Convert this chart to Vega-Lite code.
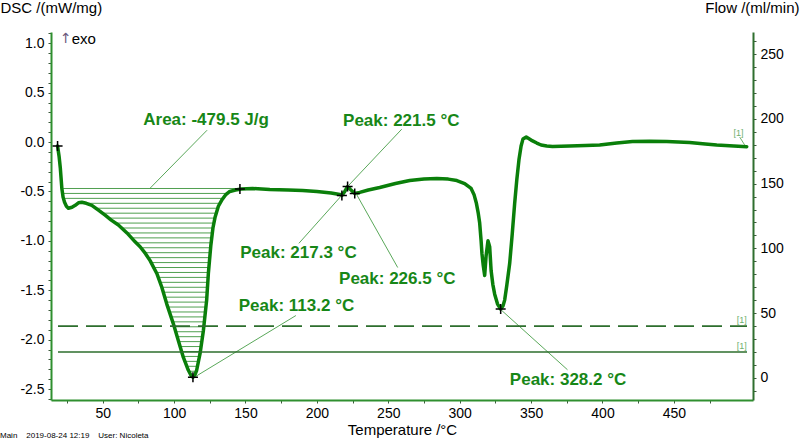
{
  "$schema": "https://vega.github.io/schema/vega-lite/v6.json",
  "width": 702,
  "height": 368,
  "autosize": {"type": "none"},
  "padding": {"left": 51, "top": 32, "right": 47, "bottom": 42},
  "background": "white",
  "config": {
    "view": {"stroke": null},
    "font": "Liberation Sans",
    "axis": {"grid": false, "labelFont": "Liberation Sans", "titleFont": "Liberation Sans", "labelColor": "black", "titleColor": "black", "titleFontWeight": "normal", "labelOverlap": false, "labelBound": false}
  },
  "title": {
    "text": "Main\u00a0\u00a0\u00a0 2019-08-24 12:19\u00a0\u00a0\u00a0 User: Nicoleta",
    "orient": "bottom", "anchor": "start", "frame": "bounds",
    "fontSize": 8, "fontWeight": "normal", "color": "black", "offset": -5, "font": "Liberation Sans"
  },
  "datasets": {
    "dsc": [
      {"t":18.4,"v":-0.04},{"t":19.5,"v":-0.15},{"t":20.3,"v":-0.26},{"t":21.4,"v":-0.47},{"t":22.3,"v":-0.56},{"t":23.3,"v":-0.61},{"t":24.6,"v":-0.65},{"t":26,"v":-0.67},{"t":28.5,"v":-0.66},{"t":30.8,"v":-0.64},{"t":33,"v":-0.615},{"t":35.4,"v":-0.61},{"t":38.5,"v":-0.62},{"t":42.4,"v":-0.64},{"t":47,"v":-0.69},{"t":51.7,"v":-0.74},{"t":56,"v":-0.79},{"t":61,"v":-0.84},{"t":67,"v":-0.92},{"t":72.7,"v":-1.01},{"t":76.2,"v":-1.06},{"t":80,"v":-1.13},{"t":83.2,"v":-1.2},{"t":87.9,"v":-1.33},{"t":91.4,"v":-1.47},{"t":94.9,"v":-1.64},{"t":99.5,"v":-1.84},{"t":103,"v":-2.01},{"t":106.5,"v":-2.18},{"t":110,"v":-2.31},{"t":111.8,"v":-2.36},{"t":113.2,"v":-2.38},{"t":114.5,"v":-2.36},{"t":115.8,"v":-2.31},{"t":118.2,"v":-2.14},{"t":120.5,"v":-1.91},{"t":122.8,"v":-1.6},{"t":124,"v":-1.33},{"t":125.7,"v":-1.05},{"t":127.2,"v":-0.87},{"t":128.7,"v":-0.76},{"t":131,"v":-0.65},{"t":133.3,"v":-0.59},{"t":136,"v":-0.535},{"t":139,"v":-0.5},{"t":143,"v":-0.485},{"t":147,"v":-0.475},{"t":155,"v":-0.47},{"t":167,"v":-0.48},{"t":180,"v":-0.485},{"t":190,"v":-0.49},{"t":200,"v":-0.5},{"t":210,"v":-0.515},{"t":216,"v":-0.53},{"t":217.5,"v":-0.54},{"t":219.5,"v":-0.5},{"t":221.5,"v":-0.45},{"t":223.5,"v":-0.48},{"t":226.5,"v":-0.52},{"t":230,"v":-0.51},{"t":236,"v":-0.485},{"t":244,"v":-0.46},{"t":255,"v":-0.42},{"t":265,"v":-0.39},{"t":275,"v":-0.375},{"t":284,"v":-0.37},{"t":292,"v":-0.375},{"t":298,"v":-0.39},{"t":303.5,"v":-0.42},{"t":308,"v":-0.47},{"t":310,"v":-0.53},{"t":311.7,"v":-0.62},{"t":313,"v":-0.72},{"t":314,"v":-0.82},{"t":315,"v":-1.0},{"t":315.6,"v":-1.13},{"t":316.5,"v":-1.25},{"t":317.5,"v":-1.35},{"t":318.5,"v":-1.15},{"t":319.8,"v":-1.0},{"t":321,"v":-1.06},{"t":322,"v":-1.3},{"t":323.2,"v":-1.44},{"t":324.5,"v":-1.54},{"t":326.5,"v":-1.64},{"t":328.7,"v":-1.69},{"t":330.3,"v":-1.66},{"t":331.5,"v":-1.6},{"t":333,"v":-1.45},{"t":335,"v":-1.23},{"t":336.8,"v":-0.93},{"t":338.5,"v":-0.62},{"t":340,"v":-0.38},{"t":341.5,"v":-0.18},{"t":343,"v":-0.04},{"t":344.3,"v":0.03},{"t":346.6,"v":0.05},{"t":350,"v":0.02},{"t":354,"v":-0.01},{"t":357,"v":-0.03},{"t":361,"v":-0.04},{"t":365,"v":-0.045},{"t":377,"v":-0.04},{"t":388,"v":-0.035},{"t":398,"v":-0.03},{"t":410,"v":-0.01},{"t":421,"v":0.005},{"t":433,"v":0.008},{"t":445,"v":0.005},{"t":461,"v":-0.005},{"t":472,"v":-0.02},{"t":480,"v":-0.03},{"t":492,"v":-0.04},{"t":501,"v":-0.047}
    ],
    "hatch": [
      {"h":-0.47,"a":21.4,"b":147},{"h":-0.52,"a":22.1,"b":137.3},{"h":-0.57,"a":22.8,"b":134.3},{"h":-0.62,"a":38.5,"b":132.2},{"h":-0.67,"a":45.2,"b":130.6},{"h":-0.72,"a":49.8,"b":129.5},{"h":-0.77,"a":54.3,"b":128.6},{"h":-0.82,"a":59.0,"b":127.9},{"h":-0.87,"a":63.3,"b":127.2},{"h":-0.92,"a":67.0,"b":126.8},{"h":-0.97,"a":70.2,"b":126.4},{"h":-1.02,"a":73.4,"b":125.95},{"h":-1.07,"a":76.7,"b":125.6},{"h":-1.12,"a":79.5,"b":125.3},{"h":-1.17,"a":81.8,"b":125.0},{"h":-1.22,"a":83.9,"b":124.7},{"h":-1.27,"a":85.7,"b":124.4},{"h":-1.32,"a":87.5,"b":124.05},{"h":-1.37,"a":88.9,"b":123.8},{"h":-1.42,"a":90.1,"b":123.6},{"h":-1.47,"a":91.4,"b":123.4},{"h":-1.52,"a":92.4,"b":123.2},{"h":-1.57,"a":93.5,"b":122.9},{"h":-1.62,"a":94.5,"b":122.65},{"h":-1.67,"a":95.6,"b":122.3},{"h":-1.72,"a":96.7,"b":121.9},{"h":-1.77,"a":97.9,"b":121.5},{"h":-1.82,"a":99.0,"b":121.2},{"h":-1.87,"a":100.1,"b":120.8},{"h":-1.92,"a":101.1,"b":120.4},{"h":-1.97,"a":102.2,"b":119.9},{"h":-2.02,"a":103.2,"b":119.4},{"h":-2.07,"a":104.2,"b":118.9},{"h":-2.12,"a":105.3,"b":118.4},{"h":-2.17,"a":106.3,"b":117.8},{"h":-2.22,"a":107.6,"b":117.1},{"h":-2.27,"a":108.9,"b":116.4},{"h":-2.32,"a":110.5,"b":115.4}
    ],
    "leaders": [
      {"t1":123.1,"v1":0.12,"t2":83.2,"v2":-0.467},
      {"t1":259.4,"v1":0.13,"t2":221.7,"v2":-0.447},
      {"t1":187.4,"v1":-1.025,"t2":217.5,"v2":-0.538},
      {"t1":256.6,"v1":-1.27,"t2":227.3,"v2":-0.518},
      {"t1":185.3,"v1":-1.756,"t2":114.7,"v2":-2.376},
      {"t1":375.5,"v1":-2.305,"t2":328.7,"v2":-1.695}
    ],
    "tagleader": [{"t1":496.1,"v1":0.05,"t2":499.6,"v2":-0.03}],
    "markers": [
      {"t":18.4,"v":-0.04},{"t":146.1,"v":-0.475},{"t":113.2,"v":-2.38},{"t":217.5,"v":-0.54},{"t":221.5,"v":-0.45},{"t":226.5,"v":-0.52},{"t":328.7,"v":-1.69}
    ],
    "notes": [
      {"t":122.4,"v":0.223,"label":"Area: -479.5 J/g"},
      {"t":259.1,"v":0.213,"label":"Peak: 221.5 °C"},
      {"t":187.1,"v":-1.127,"label":"Peak: 217.3 °C"},
      {"t":256.3,"v":-1.39,"label":"Peak: 226.5 °C"},
      {"t":185.7,"v":-1.655,"label":"Peak: 113.2 °C"},
      {"t":375.9,"v":-2.406,"label":"Peak: 328.2 °C"}
    ],
    "arrow": [{"t":20.1,"v":1.044,"label":"↑"}],
    "exo": [{"t":28.3,"v":1.044,"label":"exo"}],
    "dsctag": [{"t":495.3,"v":0.09,"label":"[1]"}],
    "flowDashed": [{"t1":18.7,"t2":501.2,"f":40}],
    "flowSolid": [{"t1":18.7,"t2":501.2,"f":20}],
    "flowTags": [{"t":497.5,"f":40,"label":"[1]"},{"t":497.5,"f":20,"label":"[1]"}]
  },
  "layer": [
    {
      "layer": [
        {
          "data": {"name": "hatch"},
          "mark": {"type": "rule", "color": "#4f9f4f", "strokeWidth": 1},
          "encoding": {
            "x": {"field": "a", "type": "quantitative", "title": "Temperature /°C",
              "scale": {"domain": [13.8, 505.4], "nice": false, "zero": false},
              "axis": {
                "values": [25,50,75,100,125,150,175,200,225,250,275,300,325,350,375,400,425,450,475],
                "tickCount": 200,
                "labelExpr": "datum.value % 50 == 0 ? format(datum.value, 'd') : ''",
                "labelFontSize": 14, "labelPadding": 3, "labelFlush": false, "labelOverlap": false,
                "tickSize": 3, "tickColor": "#3d5a3d", "tickWidth": 1,
                "domainColor": "#2f8f2f", "domainWidth": 2,
                "titleFontSize": 15, "titlePadding": 2
              }
            },
            "x2": {"field": "b"},
            "y": {"field": "h", "type": "quantitative", "title": "DSC /(mW/mg)",
              "scale": {"domain": [-2.611, 1.114], "nice": false, "zero": false},
              "axis": {
                "values": [-2.6,-2.5,-2.4,-2.3,-2.2,-2.1,-2.0,-1.9,-1.8,-1.7,-1.6,-1.5,-1.4,-1.3,-1.2,-1.1,-1.0,-0.9,-0.8,-0.7,-0.6,-0.5,-0.4,-0.3,-0.2,-0.1,0,0.1,0.2,0.3,0.4,0.5,0.6,0.7,0.8,0.9,1.0,1.1],
                "tickCount": 200,
                "labelExpr": "abs(datum.value*2 - round(datum.value*2)) < 0.01 ? (datum.value < -0.001 ? '-' : '') + format(abs(datum.value), '.1f') : ''",
                "labelFontSize": 14, "labelPadding": 4, "labelFlush": false, "labelOverlap": false,
                "tickSize": 3, "tickColor": "#3d5a3d", "tickWidth": 1,
                "domainColor": "#2f8f2f", "domainWidth": 2,
                "titleFontSize": 15, "titleAngle": 0, "titleAlign": "left", "titleBaseline": "middle",
                "titleX": -51, "titleY": -25
              }
            }
          }
        },
        {
          "data": {"name": "dsc"},
          "mark": {"type": "line", "color": "#0a7f0a", "strokeWidth": 3.5, "strokeJoin": "round", "strokeCap": "round"},
          "encoding": {
            "x": {"field": "t", "type": "quantitative", "title": "Temperature /°C", "scale": {"domain": [13.8, 505.4], "nice": false, "zero": false}},
            "y": {"field": "v", "type": "quantitative", "title": "DSC /(mW/mg)", "scale": {"domain": [-2.611, 1.114], "nice": false, "zero": false}}
          }
        },
        {
          "data": {"name": "leaders"},
          "mark": {"type": "rule", "color": "#5aa85a", "strokeWidth": 1},
          "encoding": {
            "x": {"field": "t1", "type": "quantitative", "title": "Temperature /°C", "scale": {"domain": [13.8, 505.4], "nice": false, "zero": false}},
            "y": {"field": "v1", "type": "quantitative", "title": "DSC /(mW/mg)", "scale": {"domain": [-2.611, 1.114], "nice": false, "zero": false}},
            "x2": {"field": "t2"},
            "y2": {"field": "v2"}
          }
        },
        {
          "data": {"name": "tagleader"},
          "mark": {"type": "rule", "color": "#6fb06f", "strokeWidth": 1},
          "encoding": {
            "x": {"field": "t1", "type": "quantitative", "title": "Temperature /°C", "scale": {"domain": [13.8, 505.4], "nice": false, "zero": false}},
            "y": {"field": "v1", "type": "quantitative", "title": "DSC /(mW/mg)", "scale": {"domain": [-2.611, 1.114], "nice": false, "zero": false}},
            "x2": {"field": "t2"},
            "y2": {"field": "v2"}
          }
        },
        {
          "data": {"name": "markers"},
          "mark": {"type": "point", "shape": "M-1,0L1,0M0,-1L0,1", "size": 100, "filled": false, "stroke": "black", "strokeWidth": 1.5, "opacity": 1},
          "encoding": {
            "x": {"field": "t", "type": "quantitative", "title": "Temperature /°C", "scale": {"domain": [13.8, 505.4], "nice": false, "zero": false}},
            "y": {"field": "v", "type": "quantitative", "title": "DSC /(mW/mg)", "scale": {"domain": [-2.611, 1.114], "nice": false, "zero": false}}
          }
        },
        {
          "data": {"name": "notes"},
          "mark": {"type": "text", "font": "Liberation Sans", "fontSize": 17, "fontWeight": "bold", "color": "#178717", "align": "center", "baseline": "middle"},
          "encoding": {
            "x": {"field": "t", "type": "quantitative", "title": "Temperature /°C", "scale": {"domain": [13.8, 505.4], "nice": false, "zero": false}},
            "y": {"field": "v", "type": "quantitative", "title": "DSC /(mW/mg)", "scale": {"domain": [-2.611, 1.114], "nice": false, "zero": false}},
            "text": {"field": "label"}
          }
        },
        {
          "data": {"name": "arrow"},
          "mark": {"type": "text", "font": "DejaVu Sans", "fontSize": 14, "color": "#6e5a7e", "align": "left", "baseline": "middle"},
          "encoding": {
            "x": {"field": "t", "type": "quantitative", "title": "Temperature /°C", "scale": {"domain": [13.8, 505.4], "nice": false, "zero": false}},
            "y": {"field": "v", "type": "quantitative", "title": "DSC /(mW/mg)", "scale": {"domain": [-2.611, 1.114], "nice": false, "zero": false}},
            "text": {"field": "label"}
          }
        },
        {
          "data": {"name": "exo"},
          "mark": {"type": "text", "font": "Liberation Sans", "fontSize": 15, "color": "black", "align": "left", "baseline": "middle"},
          "encoding": {
            "x": {"field": "t", "type": "quantitative", "title": "Temperature /°C", "scale": {"domain": [13.8, 505.4], "nice": false, "zero": false}},
            "y": {"field": "v", "type": "quantitative", "title": "DSC /(mW/mg)", "scale": {"domain": [-2.611, 1.114], "nice": false, "zero": false}},
            "text": {"field": "label"}
          }
        },
        {
          "data": {"name": "dsctag"},
          "mark": {"type": "text", "font": "Liberation Sans", "fontSize": 9, "color": "#6fb06f", "align": "center", "baseline": "middle"},
          "encoding": {
            "x": {"field": "t", "type": "quantitative", "title": "Temperature /°C", "scale": {"domain": [13.8, 505.4], "nice": false, "zero": false}},
            "y": {"field": "v", "type": "quantitative", "title": "DSC /(mW/mg)", "scale": {"domain": [-2.611, 1.114], "nice": false, "zero": false}},
            "text": {"field": "label"}
          }
        }
      ]
    },
    {
      "layer": [
        {
          "data": {"name": "flowDashed"},
          "mark": {"type": "rule", "color": "#2d6e2d", "strokeWidth": 1.8, "strokeDash": [20, 8]},
          "encoding": {
            "x": {"field": "t1", "type": "quantitative", "title": "Temperature /°C", "scale": {"domain": [13.8, 505.4], "nice": false, "zero": false}},
            "x2": {"field": "t2"},
            "y": {"field": "f", "type": "quantitative", "title": "Flow /(ml/min)",
              "scale": {"domain": [-17, 267], "nice": false, "zero": false},
              "axis": {
                "orient": "right",
                "values": [-10,0,10,20,30,40,50,60,70,80,90,100,110,120,130,140,150,160,170,180,190,200,210,220,230,240,250,260],
                "tickCount": 200,
                "labelExpr": "datum.value % 50 == 0 ? format(datum.value, 'd') : ''",
                "labelFontSize": 14, "labelPadding": 4, "labelFlush": false, "labelOverlap": false,
                "tickSize": 3, "tickColor": "#3d5a3d", "tickWidth": 1,
                "domainColor": "#2f6f2f", "domainWidth": 2,
                "titleFontSize": 15, "titleAngle": 0, "titleAlign": "right", "titleBaseline": "middle",
                "titleX": 46, "titleY": -25
              }
            }
          }
        },
        {
          "data": {"name": "flowSolid"},
          "mark": {"type": "rule", "color": "#2d6e2d", "strokeWidth": 1.5},
          "encoding": {
            "x": {"field": "t1", "type": "quantitative", "title": "Temperature /°C", "scale": {"domain": [13.8, 505.4], "nice": false, "zero": false}},
            "x2": {"field": "t2"},
            "y": {"field": "f", "type": "quantitative", "title": "Flow /(ml/min)", "scale": {"domain": [-17, 267], "nice": false, "zero": false}}
          }
        },
        {
          "data": {"name": "flowTags"},
          "mark": {"type": "text", "font": "Liberation Sans", "fontSize": 9, "color": "#6fb06f", "align": "center", "baseline": "bottom", "dy": -1},
          "encoding": {
            "x": {"field": "t", "type": "quantitative", "title": "Temperature /°C", "scale": {"domain": [13.8, 505.4], "nice": false, "zero": false}},
            "y": {"field": "f", "type": "quantitative", "title": "Flow /(ml/min)", "scale": {"domain": [-17, 267], "nice": false, "zero": false}},
            "text": {"field": "label"}
          }
        }
      ]
    }
  ],
  "resolve": {"scale": {"y": "independent"}, "axis": {"y": "independent"}}
}
